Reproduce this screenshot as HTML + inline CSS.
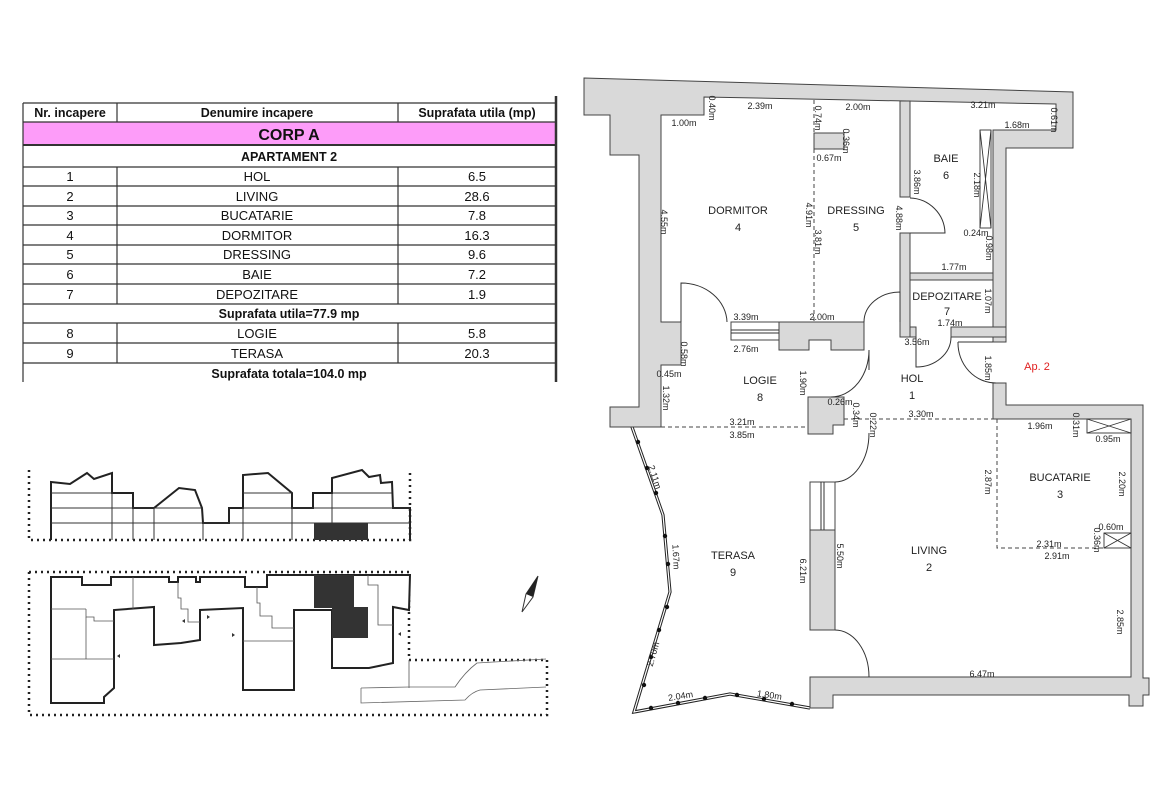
<!DOCTYPE html>
<html><head><meta charset="utf-8"><style>
html,body{margin:0;padding:0;background:#fff;width:1170px;height:785px;overflow:hidden}
svg{display:block}
text{font-family:"Liberation Sans",sans-serif}
.d{font-size:9px;fill:#222}
.r{font-size:11px;fill:#222;text-anchor:middle}
.t{font-size:13px;fill:#111;text-anchor:middle}
.tb{font-size:12.5px;font-weight:bold;fill:#111;text-anchor:middle}
.w{fill:#d9d9d9;stroke:#444;stroke-width:1}
.ln{fill:none;stroke:#333;stroke-width:1}
.ds{fill:none;stroke:#444;stroke-width:1;stroke-dasharray:4 3}
.dot{fill:none;stroke:#222;stroke-width:2.5;stroke-dasharray:2 4}
</style></head><body>
<svg width="1170" height="785" viewBox="0 0 1170 785" xmlns="http://www.w3.org/2000/svg">
<!-- TABLE -->
<g>
<rect x="23" y="122" width="533" height="23" fill="#fd9cf9"/>
<g stroke="#333" stroke-width="1.2" fill="none">
<line x1="23" y1="103" x2="556" y2="103"/>
<line x1="23" y1="122" x2="556" y2="122"/>
<line x1="23" y1="145" x2="556" y2="145" stroke-width="2"/>
<line x1="23" y1="167" x2="556" y2="167"/>
<line x1="23" y1="186" x2="556" y2="186"/>
<line x1="23" y1="206" x2="556" y2="206"/>
<line x1="23" y1="225" x2="556" y2="225"/>
<line x1="23" y1="245" x2="556" y2="245"/>
<line x1="23" y1="264" x2="556" y2="264"/>
<line x1="23" y1="284" x2="556" y2="284"/>
<line x1="23" y1="304" x2="556" y2="304"/>
<line x1="23" y1="323" x2="556" y2="323"/>
<line x1="23" y1="343" x2="556" y2="343"/>
<line x1="23" y1="363" x2="556" y2="363"/>
<line x1="23" y1="103" x2="23" y2="382"/>
<line x1="556" y1="96" x2="556" y2="382" stroke-width="2.5"/>
<line x1="117" y1="103" x2="117" y2="122"/>
<line x1="398" y1="103" x2="398" y2="122"/>
<line x1="117" y1="167" x2="117" y2="304"/>
<line x1="398" y1="167" x2="398" y2="304"/>
<line x1="117" y1="323" x2="117" y2="363"/>
<line x1="398" y1="323" x2="398" y2="363"/>
</g>
<text class="tb" x="70" y="117">Nr. incapere</text>
<text class="tb" x="257" y="117">Denumire incapere</text>
<text class="tb" x="477" y="117">Suprafata utila (mp)</text>
<text x="289" y="140" style="font-size:16px;font-weight:bold;fill:#111;text-anchor:middle">CORP A</text>
<text class="tb" x="289" y="161">APARTAMENT 2</text>
<g class="t">
<text class="t" x="70" y="181">1</text><text class="t" x="257" y="181">HOL</text><text class="t" x="477" y="181">6.5</text>
<text class="t" x="70" y="201">2</text><text class="t" x="257" y="201">LIVING</text><text class="t" x="477" y="201">28.6</text>
<text class="t" x="70" y="220">3</text><text class="t" x="257" y="220">BUCATARIE</text><text class="t" x="477" y="220">7.8</text>
<text class="t" x="70" y="240">4</text><text class="t" x="257" y="240">DORMITOR</text><text class="t" x="477" y="240">16.3</text>
<text class="t" x="70" y="259">5</text><text class="t" x="257" y="259">DRESSING</text><text class="t" x="477" y="259">9.6</text>
<text class="t" x="70" y="279">6</text><text class="t" x="257" y="279">BAIE</text><text class="t" x="477" y="279">7.2</text>
<text class="t" x="70" y="299">7</text><text class="t" x="257" y="299">DEPOZITARE</text><text class="t" x="477" y="299">1.9</text>
<text class="t" x="70" y="338">8</text><text class="t" x="257" y="338">LOGIE</text><text class="t" x="477" y="338">5.8</text>
<text class="t" x="70" y="358">9</text><text class="t" x="257" y="358">TERASA</text><text class="t" x="477" y="358">20.3</text>
</g>
<text class="tb" x="289" y="318">Suprafata utila=77.9 mp</text>
<text class="tb" x="289" y="378">Suprafata totala=104.0 mp</text>
</g>

<!-- ELEVATION -->
<g>
<polyline class="dot" points="29,470 29,540 410,540 410,470"/>
<polyline fill="none" stroke="#222" stroke-width="2" points="51,540 51,482 70,484 87,473 94,479 112,473 112,493 133,493 133,508 154,508 179,488 195,490 202,508 203,523 229,523 229,508 243,508 243,475 268,473 292,493 292,508 313,508 313,493 332,493 332,478 362,470 369,477 380,475 381,483 392,482 393,508 410,508 410,540"/>
<g stroke="#333" stroke-width="1" fill="none">
<line x1="51" y1="493" x2="112" y2="493"/><line x1="51" y1="508" x2="133" y2="508"/><line x1="51" y1="523" x2="410" y2="523"/>
<line x1="133" y1="508" x2="154" y2="508"/><line x1="154" y1="508" x2="203" y2="508"/>
<line x1="243" y1="493" x2="292" y2="493"/><line x1="243" y1="508" x2="313" y2="508"/>
<line x1="313" y1="508" x2="410" y2="508"/><line x1="332" y1="493" x2="392" y2="493"/>
<line x1="112" y1="493" x2="112" y2="540"/><line x1="133" y1="508" x2="133" y2="540"/><line x1="154" y1="508" x2="154" y2="540"/>
<line x1="203" y1="523" x2="203" y2="540"/><line x1="243" y1="508" x2="243" y2="540"/><line x1="292" y1="508" x2="292" y2="540"/>
<line x1="332" y1="493" x2="332" y2="523"/>
</g>
<rect x="314" y="523" width="54" height="17" fill="#333"/>
</g>

<!-- SITE PLAN -->
<g>
<polyline class="dot" points="29,572 29,715 547,715 547,660 409,660 409,572 29,572"/>
<polygon fill="#fff" stroke="#222" stroke-width="2" points="51,577 82,577 82,585 111,585 111,577 169,577 169,582 178,582 178,577 196,577 196,582 200,582 200,577 245,577 245,587 267,587 267,575 410,575 409,610 393,607 393,663 369,668 332,668 332,610 294,610 294,690 270,690 243,690 243,608 200,610 200,640 181,643 154,645 154,607 114,610 114,688 104,697 104,703 51,703"/>
<g stroke="#555" stroke-width="0.8" fill="none">
<line x1="51" y1="609" x2="86" y2="609"/><polyline points="86,609 86,617 94,617 94,621 114,621"/>
<line x1="86" y1="617" x2="86" y2="659"/><line x1="51" y1="659" x2="114" y2="659"/>
<line x1="133" y1="577" x2="133" y2="609"/>
<polyline points="178,582 178,598 181,598 181,609 188,609 188,622 200,622"/>
<polyline points="257,587 257,603 260,603 260,616 272,616 272,628 294,628"/>
<line x1="243" y1="641" x2="294" y2="641"/>
<polyline points="368,575 368,585 378,585 378,625 393,625"/>
<line x1="409" y1="660" x2="409" y2="688"/>
</g>
<rect x="314" y="575" width="40" height="33" fill="#333"/>
<rect x="332" y="607" width="36" height="31" fill="#333"/>
<path d="M361,688 L409,687 455,687 Q465,672 477,663 L546,659 M361,688 L361,703 L465,700 Q472,692 480,690 L546,687" fill="none" stroke="#666" stroke-width="0.8"/>
<polygon points="120,654 117,656 120,658" fill="#333"/><polygon points="207,615 210,617 207,619" fill="#333"/>
<polygon points="185,619 182,621 185,623" fill="#333"/><polygon points="401,632 398,634 401,636" fill="#333"/>
<polygon points="232,633 235,635 232,637" fill="#333"/>
<polygon points="538,576 533,597 522,612 526,594" fill="#fff" stroke="#333" stroke-width="1"/>
<polygon points="538,576 533,597 526,594" fill="#222"/>
</g>

<!-- FLOOR PLAN -->
<g>
<polyline points="632,427 663,515 670,592 634,712 730,694 810,708" fill="none" stroke="#222" stroke-width="3.2"/>
<polyline points="632,427 663,515 670,592 634,712 730,694 810,708" fill="none" stroke="#fff" stroke-width="1.2"/>
<g fill="#111">
<circle cx="638" cy="442" r="2.2"/><circle cx="647" cy="468" r="2.2"/><circle cx="656" cy="493" r="2.2"/>
<circle cx="665" cy="536" r="2.2"/><circle cx="668" cy="564" r="2.2"/><circle cx="667" cy="607" r="2.2"/>
<circle cx="659" cy="630" r="2.2"/><circle cx="651" cy="657" r="2.2"/><circle cx="644" cy="685" r="2.2"/>
<circle cx="651" cy="708" r="2.2"/><circle cx="678" cy="703" r="2.2"/><circle cx="705" cy="698" r="2.2"/>
<circle cx="737" cy="695" r="2.2"/><circle cx="764" cy="699" r="2.2"/><circle cx="792" cy="704" r="2.2"/>
</g>
<polygon class="w" points="584,78 1073,92 1073,148 1006,148 1006,342 993,342 993,130 1056,130 1056,104 704,97 704,115 661,115 661,322 681,322 681,365 661,365 661,427 610,427 610,407 639,407 639,155 610,155 610,115 584,115"/>
<rect class="w" x="900" y="101" width="10" height="96"/>
<rect class="w" x="900" y="233" width="10" height="104"/>
<rect class="w" x="910" y="273" width="83" height="7"/>
<rect class="w" x="951" y="327" width="55" height="10"/>
<rect class="w" x="910" y="327" width="6" height="10"/>
<polygon class="w" points="779,322 864,322 864,350 831,350 831,340 809,340 809,350 779,350"/>
<rect x="731" y="322" width="48" height="18" fill="#fff" stroke="#444"/>
<line x1="731" y1="330" x2="779" y2="330" stroke="#333" stroke-width="1"/><line x1="731" y1="333" x2="779" y2="333" stroke="#333" stroke-width="1"/>
<polygon class="w" points="808,397 844,397 844,425 833,425 833,434 808,434"/>
<rect class="w" x="810" y="530" width="25" height="100"/>
<rect x="810" y="482" width="25" height="48" fill="#fff" stroke="#444"/>
<line x1="821" y1="482" x2="821" y2="530" stroke="#333"/><line x1="824" y1="482" x2="824" y2="530" stroke="#333"/>
<polygon class="w" points="993,383 1006,383 1006,405 1143,405 1143,678 1149,678 1149,695 1143,695 1143,706 1129,706 1129,695 833,695 833,708 810,708 810,677 1131,677 1131,419 993,419"/>
<rect class="w" x="814" y="133" width="30" height="16"/>
<g fill="#fff" stroke="#333" stroke-width="0.9">
<rect x="980" y="130" width="11" height="98"/><path d="M980,130 L991,228 M991,130 L980,228" fill="none"/>
<rect x="1087" y="419" width="44" height="14"/><path d="M1087,419 L1131,433 M1131,419 L1087,433" fill="none"/>
<rect x="1104" y="533" width="27" height="15"/><path d="M1104,533 L1131,548 M1131,533 L1104,548" fill="none"/>
</g>
<line class="ds" x1="814" y1="100" x2="814" y2="322"/>
<line class="ds" x1="661" y1="427" x2="808" y2="427"/>
<line class="ds" x1="844" y1="419" x2="993" y2="419"/>
<polyline class="ds" points="997,419 997,548 1104,548"/>
<path class="ln" d="M910,198 A36,36 0 0 1 945,233 L910,233"/>
<path class="ln" d="M681,322 L681,283 A46,40 0 0 1 727,322"/>
<path class="ln" d="M864,322 A36,30 0 0 1 900,292 L900,322"/>
<path class="ln" d="M831,397 A38,47 0 0 0 869,350 L869,370"/>
<path class="ln" d="M916,337 L916,367 A35,30 0 0 0 951,337"/>
<path class="ln" d="M958,342 L993,342 M958,342 A38,40 0 0 0 996,383"/>
<path class="ln" d="M835,482 A34,49 0 0 0 869,433"/>
<path class="ln" d="M835,630 A34,47 0 0 1 869,677"/>
<text class="r" x="738" y="214">DORMITOR</text><text class="r" x="738" y="231">4</text>
<text class="r" x="856" y="214">DRESSING</text><text class="r" x="856" y="231">5</text>
<text class="r" x="946" y="162">BAIE</text><text class="r" x="946" y="179">6</text>
<text class="r" x="947" y="300">DEPOZITARE</text><text class="r" x="947" y="315">7</text>
<text class="r" x="760" y="384">LOGIE</text><text class="r" x="760" y="401">8</text>
<text class="r" x="912" y="382">HOL</text><text class="r" x="912" y="399">1</text>
<text class="r" x="1060" y="481">BUCATARIE</text><text class="r" x="1060" y="498">3</text>
<text class="r" x="733" y="559">TERASA</text><text class="r" x="733" y="576">9</text>
<text class="r" x="929" y="554">LIVING</text><text class="r" x="929" y="571">2</text>
<text x="1037" y="370" style="font-size:11px;fill:#e02020;text-anchor:middle">Ap. 2</text>
<g class="d" text-anchor="middle">
<text class="d" x="760" y="109">2.39m</text><text class="d" x="858" y="110">2.00m</text>
<text class="d" x="684" y="126">1.00m</text><text class="d" x="983" y="108">3.21m</text>
<text class="d" x="1017" y="128">1.68m</text><text class="d" x="829" y="161">0.67m</text>
<text class="d" x="954" y="270">1.77m</text><text class="d" x="976" y="236">0.24m</text>
<text class="d" x="950" y="326">1.74m</text><text class="d" x="746" y="320">3.39m</text>
<text class="d" x="822" y="320">2.00m</text><text class="d" x="746" y="352">2.76m</text>
<text class="d" x="917" y="345">3.56m</text><text class="d" x="669" y="377">0.45m</text>
<text class="d" x="840" y="405">0.26m</text><text class="d" x="921" y="417">3.30m</text>
<text class="d" x="742" y="425">3.21m</text><text class="d" x="742" y="438">3.85m</text>
<text class="d" x="1040" y="429">1.96m</text><text class="d" x="1108" y="442">0.95m</text>
<text class="d" x="1111" y="530">0.60m</text><text class="d" x="1049" y="547">2.31m</text>
<text class="d" x="1057" y="559">2.91m</text><text class="d" x="982" y="677">6.47m</text>
</g>
<text class="d" text-anchor="middle" transform="translate(681,699) rotate(-9)">2.04m</text>
<text class="d" text-anchor="middle" transform="translate(769,698) rotate(8)">1.80m</text>
<g class="d" text-anchor="middle">
<text class="d" transform="translate(709,108) rotate(90)">0.40m</text>
<text class="d" transform="translate(815,118) rotate(90)">0.74m</text>
<text class="d" transform="translate(843,141) rotate(90)">0.36m</text>
<text class="d" transform="translate(661,222) rotate(90)">4.55m</text>
<text class="d" transform="translate(806,215) rotate(90)">4.91m</text>
<text class="d" transform="translate(815,242) rotate(90)">3.81m</text>
<text class="d" transform="translate(914,182) rotate(90)">3.86m</text>
<text class="d" transform="translate(896,218) rotate(90)">4.88m</text>
<text class="d" transform="translate(974,185) rotate(90)">2.18m</text>
<text class="d" transform="translate(986,248) rotate(90)">0.98m</text>
<text class="d" transform="translate(1051,120) rotate(90)">0.61m</text>
<text class="d" transform="translate(985,301) rotate(90)">1.07m</text>
<text class="d" transform="translate(985,368) rotate(90)">1.85m</text>
<text class="d" transform="translate(681,354) rotate(90)">0.58m</text>
<text class="d" transform="translate(663,398) rotate(90)">1.32m</text>
<text class="d" transform="translate(800,383) rotate(90)">1.90m</text>
<text class="d" transform="translate(853,415) rotate(90)">0.34m</text>
<text class="d" transform="translate(870,425) rotate(90)">0.22m</text>
<text class="d" transform="translate(1073,425) rotate(90)">0.31m</text>
<text class="d" transform="translate(985,482) rotate(90)">2.87m</text>
<text class="d" transform="translate(1119,484) rotate(90)">2.20m</text>
<text class="d" transform="translate(1094,540) rotate(90)">0.36m</text>
<text class="d" transform="translate(800,571) rotate(90)">6.21m</text>
<text class="d" transform="translate(837,556) rotate(90)">5.50m</text>
<text class="d" transform="translate(1117,622) rotate(90)">2.85m</text>
<text class="d" transform="translate(652,478) rotate(72)">2.11m</text>
<text class="d" transform="translate(673,557) rotate(87)">1.67m</text>
<text class="d" transform="translate(656,655) rotate(-74)">2.70m</text>
</g>
</g>
</svg>
</body></html>
